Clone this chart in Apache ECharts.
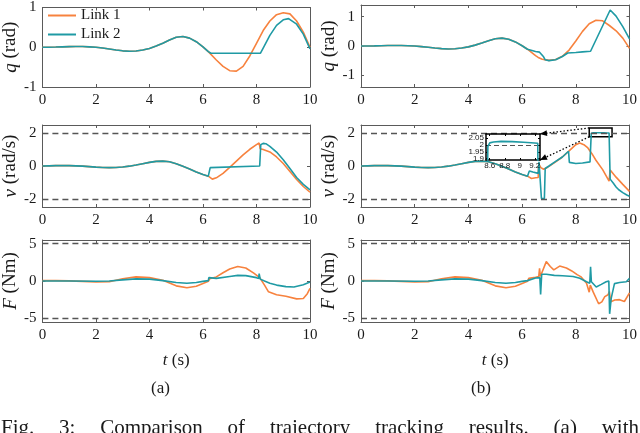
<!DOCTYPE html>
<html><head><meta charset="utf-8">
<script src="https://cdn.jsdelivr.net/npm/echarts@6/dist/echarts.min.js"></script>
<style>html,body{margin:0;padding:0;background:#fff}#c{width:640px;height:433px}</style>
</head><body><div id="c"></div>
<script>
// ---------- DATA ----------
const X_TICKS = [0, 2, 4, 6, 8, 10];
const Y_TICKS_QA = [-1, 0, 1];
const Y_TICKS_QB = [-1, 0, 1];
const Y_TICKS_V = [-2, 0, 2];
const Y_TICKS_F = [-5, 0, 5];
const INSET_X_TICKS = [8.6, 8.8, 9, 9.2];
const INSET_Y_TICKS = [1.9, 1.95, 2, 2.05];
const V_LIMITS = [2, -2];
const F_LIMITS = [5, -5];

// joint angle q (rad), common part up to t = 6.2 s
const qShared = [[0,0],[0.25,0.001],[0.5,0.005],[0.75,0.01],[1,0.015],[1.25,0.018],[1.5,0.017],[1.75,0.01],[2,0],[2.25,-0.02],[2.5,-0.045],[2.75,-0.07],[3,-0.09],[3.25,-0.1],[3.5,-0.095],[3.75,-0.07],[4,-0.03],[4.25,0.03],[4.5,0.1],[4.75,0.18],[5,0.25],[5.25,0.27],[5.5,0.23],[5.75,0.14],[6,0.01],[6.2,-0.11]];
const qA1Tail = [[6.25,-0.14],[6.5,-0.32],[6.75,-0.48],[7,-0.59],[7.25,-0.6],[7.5,-0.48],[7.75,-0.22],[8,0.1],[8.25,0.42],[8.5,0.66],[8.75,0.82],[9,0.87],[9.25,0.84],[9.5,0.66],[9.75,0.38],[10,0.0]];
const qA2Tail = [[6.25,-0.14],[6.3,-0.15],[8.15,-0.15],[8.25,-0.02],[8.5,0.3],[8.75,0.55],[9,0.69],[9.2,0.72],[9.5,0.58],[9.75,0.33],[10,-0.04]];
const qB1Tail = [[6.25,-0.15],[6.5,-0.33],[6.6,-0.39],[6.75,-0.45],[7,-0.49],[7.25,-0.46],[7.5,-0.35],[7.75,-0.14],[8,0.17],[8.25,0.5],[8.5,0.76],[8.75,0.88],[9,0.86],[9.25,0.7],[9.5,0.52],[9.75,0.27],[10,-0.08]];
const qB2Tail = [[6.25,-0.13],[6.5,-0.19],[6.65,-0.21],[6.72,-0.21],[6.8,-0.37],[6.86,-0.47],[7,-0.5],[7.25,-0.47],[7.5,-0.36],[7.7,-0.24],[8,-0.22],[8.25,-0.2],[8.55,-0.18],[9.28,1.23],[9.5,1.02],[9.75,0.66],[10,0.24]];

// joint velocity v (rad/s)
const vShared = [[0,0],[0.25,0.01],[0.5,0.02],[0.75,0.03],[1,0.025],[1.25,0.01],[1.5,-0.01],[1.75,-0.04],[2,-0.07],[2.25,-0.09],[2.5,-0.1],[2.75,-0.09],[3,-0.06],[3.25,-0.01],[3.5,0.06],[3.75,0.14],[4,0.22],[4.25,0.28],[4.5,0.3],[4.75,0.26],[5,0.14],[5.25,-0.02],[5.5,-0.18],[5.75,-0.36],[6,-0.52],[6.2,-0.62]];
const vA1Tail = [[6.25,-0.74],[6.35,-0.8],[6.5,-0.72],[6.75,-0.45],[7,-0.08],[7.25,0.3],[7.5,0.68],[7.75,1.02],[8,1.3],[8.1,1.4],[8.14,1.05],[8.25,1.0],[8.5,0.86],[8.75,0.55],[9,0.15],[9.25,-0.33],[9.5,-0.82],[9.75,-1.25],[10,-1.6]];
const vA2Tail = [[6.24,-0.64],[6.27,-0.1],[6.3,0],[8.12,0],[8.16,1.3],[8.25,1.38],[8.35,1.36],[8.5,1.2],[8.75,0.85],[9,0.38],[9.25,-0.15],[9.5,-0.7],[9.75,-1.12],[10,-1.45]];
const vB1Tail = [[6.25,-0.74],[6.35,-0.76],[6.5,-0.72],[6.6,-0.7],[6.62,0.12],[6.68,0.2],[6.7,-0.1],[6.8,-0.2],[6.9,-0.12],[7,-0.02],[7.25,0.25],[7.5,0.55],[7.75,0.92],[8,1.3],[8.15,1.4],[8.3,1.3],[8.45,1.1],[8.6,0.75],[8.75,0.35],[9,-0.22],[9.24,-0.92],[9.28,-0.25],[9.5,-0.68],[9.75,-1.12],[10,-1.55]];
const vB2Tail = [[6.24,-0.6],[6.27,-0.3],[6.4,-0.37],[6.6,-0.45],[6.63,0.25],[6.69,0.2],[6.72,-1.98],[6.83,-1.98],[6.86,-0.15],[7,0.0],[7.25,0.28],[7.5,0.55],[7.73,0.9],[7.76,0.22],[8,0.15],[8.25,0.18],[8.53,0.25],[8.575,1.99],[8.6,2.015],[8.65,2.022],[8.75,2.026],[8.9,2.024],[9.05,2.02],[9.15,2.016],[9.24,2.012],[9.26,2.005],[9.28,-0.8],[9.4,-1.05],[9.5,-1.28],[9.6,-1.45],[9.75,-1.62],[9.9,-1.77],[10,-1.85]];

// joint torque F (Nm)
const f1Shared = [[0,0.05],[0.5,0.05],[1,0.02],[1.5,-0.05],[2,-0.12],[2.5,-0.1],[3,0.3],[3.5,0.55],[4,0.45],[4.5,0.1],[5,-0.65],[5.4,-0.9],[5.75,-0.7],[6,-0.35],[6.2,-0.05]];
const f2Shared = [[0,0],[1,0],[2,-0.03],[2.5,0.0],[3,0.15],[3.5,0.28],[4,0.25],[4.5,0.05],[5,-0.2],[5.4,-0.3],[5.75,-0.2],[6,-0.05],[6.2,0.05]];
const fA1Tail = [[6.25,0.3],[6.5,0.55],[6.75,1.1],[7,1.6],[7.3,1.95],[7.6,1.75],[7.9,1.05],[8.12,0.45],[8.3,-0.55],[8.45,-1.45],[8.75,-1.85],[9.1,-2.05],[9.5,-2.4],[9.75,-2.35],[9.9,-1.7],[10,-1.0]];
const fA2Tail = [[6.22,0.45],[6.25,0.25],[6.5,0.35],[7,0.6],[7.3,0.75],[7.6,0.72],[8,0.45],[8.08,0.35],[8.1,1.0],[8.14,0.25],[8.3,0.0],[8.5,-0.3],[8.75,-0.55],[9.1,-0.75],[9.4,-0.8],[9.75,-0.5],[10,-0.15]];
const fB1Tail = [[6.25,0.35],[6.5,0.5],[6.62,0.6],[6.65,1.7],[6.68,0.6],[6.75,0.7],[6.9,2.6],[7.05,1.95],[7.18,1.5],[7.4,2.0],[7.65,1.75],[7.85,1.35],[8.05,0.85],[8.2,0.55],[8.4,-0.3],[8.5,-1.5],[8.54,-0.55],[8.65,-1.5],[8.85,-3.05],[8.97,-2.8],[9.08,-2.1],[9.2,-1.85],[9.25,-1.4],[9.3,-2.8],[9.45,-2.55],[9.63,-2.5],[9.81,-2.75],[10,-1.6]];
const fB2Tail = [[6.25,0.3],[6.5,0.4],[6.66,0.45],[6.69,-1.8],[6.73,0.9],[6.9,0.9],[7.2,0.75],[7.5,0.7],[7.9,0.6],[8.15,0.36],[8.4,-0.1],[8.52,-0.3],[8.55,1.9],[8.58,-0.1],[8.76,-0.8],[8.95,-0.45],[9.13,-0.1],[9.23,0.0],[9.26,-4.4],[9.32,-2.3],[9.44,-0.35],[9.63,-0.2],[9.88,-0.1],[10,0.35]];

// zoom annotation (data coordinates of the boxed region and inset ranges)
const ZOOM_BOX = {t0: 8.5, t1: 9.35, v0: 1.78, v1: 2.32};
const INSET_RANGE = {t0: 8.55, t1: 9.27, v0: 1.89, v1: 2.08};

const CAPTION_WORDS = ['Fig.', '3:', 'Comparison', 'of', 'trajectory', 'tracking', 'results.', '(a)', 'with'];

// ---------- STYLE / LAYOUT ----------
const ORANGE = '#F7823E', TEAL = '#1F9AA4';
const SERIF = '"Liberation Serif", "Times New Roman", serif';
const SANS = '"Liberation Sans", Arial, sans-serif';
const AX = '#5a5a5a', TXT = '#1a1a1a';
const COLS = [41, 361], ROWS = [5, 125, 240], W = 269, H = 82;

const chart = echarts.init(document.getElementById('c'), null, {renderer: 'canvas'});

const grids = [], xAxes = [], yAxes = [], series = [];
const rowDefs = [
  {name: '{i|q} (rad)', ranges: [[-1, 1, Y_TICKS_QA], [-1.4, 1.4, Y_TICKS_QB]],
   data: [[qShared.concat(qA1Tail), qShared.concat(qA2Tail)], [qShared.concat(qB1Tail), qShared.concat(qB2Tail)]], limits: null},
  {name: '{i|ν} (rad/s)', ranges: [[-2.5, 2.5, Y_TICKS_V], [-2.5, 2.5, Y_TICKS_V]],
   data: [[vShared.concat(vA1Tail), vShared.concat(vA2Tail)], [vShared.concat(vB1Tail), vShared.concat(vB2Tail)]], limits: V_LIMITS},
  {name: '{i|F} (Nm)', ranges: [[-5.5, 5.5, Y_TICKS_F], [-5.5, 5.5, Y_TICKS_F]],
   data: [[f1Shared.concat(fA1Tail), f2Shared.concat(fA2Tail)], [f1Shared.concat(fB1Tail), f2Shared.concat(fB2Tail)]], limits: F_LIMITS}
];

function addAxes(gi, xr, yr, xticks, yticks, opts) {
  const lineStyle = {color: opts.axColor, width: opts.axWidth};
  const tick = {show: true, inside: true, length: opts.tickLen, lineStyle: {color: opts.axColor, width: 1}, customValues: xticks};
  const ytick = Object.assign({}, tick, {customValues: yticks});
  const base = {type: 'value', gridIndex: gi, z: opts.z, splitLine: {show: false}, axisLine: {show: true, onZero: false, lineStyle}};
  const lab = (vals, show) => ({show, customValues: vals, margin: opts.labMargin, color: TXT, fontFamily: opts.font,
    fontSize: opts.fontSize, showMinLabel: true, showMaxLabel: true, hideOverlap: false,
    formatter: (v) => '{n|' + v + '}',
    rich: {n: {fontFamily: opts.font, fontSize: opts.fontSize, color: TXT}}});
  const nameStyle = (fs) => ({fontFamily: SERIF, fontSize: fs, color: TXT, rich: {i: {fontStyle: 'italic', fontFamily: SERIF, fontSize: fs, color: TXT}}});
  xAxes.push(Object.assign({}, base, {min: xr[0], max: xr[1], position: 'bottom', axisTick: tick, axisLabel: lab(xticks, true),
    name: opts.xName || '', nameLocation: 'middle', nameGap: 30, nameTextStyle: nameStyle(17)}));
  xAxes.push(Object.assign({}, base, {min: xr[0], max: xr[1], position: 'top', axisTick: tick, axisLabel: {show: false}}));
  yAxes.push(Object.assign({}, base, {min: yr[0], max: yr[1], position: 'left', axisTick: ytick, axisLabel: lab(yticks, opts.yLabels !== false),
    name: opts.yName || '', nameLocation: 'middle', nameGap: 20, nameTextStyle: nameStyle(19)}));
  yAxes.push(Object.assign({}, base, {min: yr[0], max: yr[1], position: 'right', axisTick: ytick, axisLabel: {show: false}}));
}

function lineSeries(name, color, data, ai, extra) {
  return Object.assign({type: 'line', name, data, xAxisIndex: ai, yAxisIndex: ai, symbol: 'none', showSymbol: false,
    clip: true, lineStyle: {color, width: 1.6}, itemStyle: {color}, z: name === 'Link 2' ? 4 : 3, silent: true}, extra || {});
}

const dashStyle = {color: '#555', width: 1.4, type: [6, 4]};

rowDefs.forEach((row, r) => {
  [0, 1].forEach(c => {
    const gi = r * 2 + c;
    grids.push({left: COLS[c], top: ROWS[r], width: W, height: H, containLabel: false});
    const [ymin, ymax, yt] = row.ranges[c];
    addAxes(gi, [0, 10], [ymin, ymax], X_TICKS, yt,
      {axColor: AX, axWidth: 1, tickLen: 3, z: 2, labMargin: 6, font: SERIF, fontSize: 15, yName: row.name, xName: r === 2 ? '{i|t} (s)' : ''});
    const ai = gi * 2;
    const extra1 = row.limits ? {markLine: {silent: true, symbol: 'none', label: {show: false}, lineStyle: dashStyle,
      data: row.limits.map(v => ({yAxis: v}))}} : {};
    series.push(lineSeries('Link 1', ORANGE, row.data[c][0], ai, extra1));
    const extra2 = (r === 1 && c === 1) ? {markArea: {silent: true, itemStyle: {color: 'rgba(0,0,0,0)', borderColor: '#000', borderWidth: 1.5},
      data: [[{xAxis: ZOOM_BOX.t0, yAxis: ZOOM_BOX.v0}, {xAxis: ZOOM_BOX.t1, yAxis: ZOOM_BOX.v1}]]}} : {};
    series.push(lineSeries('Link 2', TEAL, row.data[c][1], ai, extra2));
  });
});

// inset grid (index 6)
grids.push({left: 486, top: 134, width: 54, height: 26, show: true, backgroundColor: '#fff', borderWidth: 0, z: 5});
addAxes(6, [INSET_RANGE.t0, INSET_RANGE.t1], [INSET_RANGE.v0, INSET_RANGE.v1], INSET_X_TICKS, INSET_Y_TICKS,
  {axColor: '#000', axWidth: 1.5, tickLen: 2, z: 6, labMargin: 2, font: SANS, fontSize: 8, yLabels: false});
series.push(lineSeries('Link 2', TEAL, vShared.concat(vB2Tail), 12, {z: 6,
  markLine: {silent: true, symbol: 'none', label: {show: false}, lineStyle: {color: '#555', width: 1.2, type: [5, 3]}, data: [{yAxis: V_LIMITS[0]}]}}));

chart.setOption({
  animation: false,
  backgroundColor: '#fff',
  grid: grids, xAxis: xAxes, yAxis: yAxes, series,
  legend: {show: true, orient: 'vertical', left: 48, top: 8, icon: 'rect', itemWidth: 28, itemHeight: 2, itemGap: 4,
    data: ['Link 1', 'Link 2'], textStyle: {fontFamily: SERIF, fontSize: 15, color: TXT}, selectedMode: false, padding: 0}
});

// ---------- annotations: inset y labels, arrows, sub-captions, figure caption ----------
const gfx = [];
INSET_Y_TICKS.forEach(v => {
  const p = chart.convertToPixel({gridIndex: 6}, [INSET_RANGE.t0, v]);
  gfx.push({type: 'text', z: 20, x: p[0] - 2, y: p[1],
    style: {text: String(v), font: '8px ' + SANS, fill: TXT, align: 'right', verticalAlign: 'middle'}});
});
function arrow(p0, p1) {
  gfx.push({type: 'line', z: 20, shape: {x1: p0[0], y1: p0[1], x2: p1[0], y2: p1[1]},
    style: {stroke: '#000', lineWidth: 1.3, lineDash: [1.5, 2]}});
  const dx = p1[0] - p0[0], dy = p1[1] - p0[1], L = Math.hypot(dx, dy), ux = dx / L, uy = dy / L;
  const bx = p1[0] - ux * 7, by = p1[1] - uy * 7;
  gfx.push({type: 'polygon', z: 20, shape: {points: [[p1[0], p1[1]], [bx - uy * 3, by + ux * 3], [bx + uy * 3, by - ux * 3]]},
    style: {fill: '#000'}});
}
arrow(chart.convertToPixel({gridIndex: 3}, [ZOOM_BOX.t0, ZOOM_BOX.v1]), chart.convertToPixel({gridIndex: 6}, [INSET_RANGE.t1, INSET_RANGE.v1]));
arrow(chart.convertToPixel({gridIndex: 3}, [ZOOM_BOX.t0, ZOOM_BOX.v0]), chart.convertToPixel({gridIndex: 6}, [INSET_RANGE.t1, INSET_RANGE.v0]));

gfx.push({type: 'text', left: 151, top: 380, style: {text: '(a)', font: '17px "Liberation Serif"', fill: TXT}});
gfx.push({type: 'text', left: 471, top: 380, style: {text: '(b)', font: '17px "Liberation Serif"', fill: TXT}});

const capFont = '21px "Liberation Serif"';
const ctx = document.createElement('canvas').getContext('2d');
ctx.font = capFont;
const widths = CAPTION_WORDS.map(w => ctx.measureText(w).width);
const x0 = 1, x1 = 639;
const gap = (x1 - x0 - widths.reduce((a, b) => a + b, 0)) / (CAPTION_WORDS.length - 1);
let cx = x0;
CAPTION_WORDS.forEach((w, i) => {
  gfx.push({type: 'text', x: cx, y: 428, style: {text: w, font: capFont, fill: TXT, verticalAlign: 'middle'}});
  cx += widths[i] + gap;
});
chart.setOption({graphic: gfx});
</script></body></html>
